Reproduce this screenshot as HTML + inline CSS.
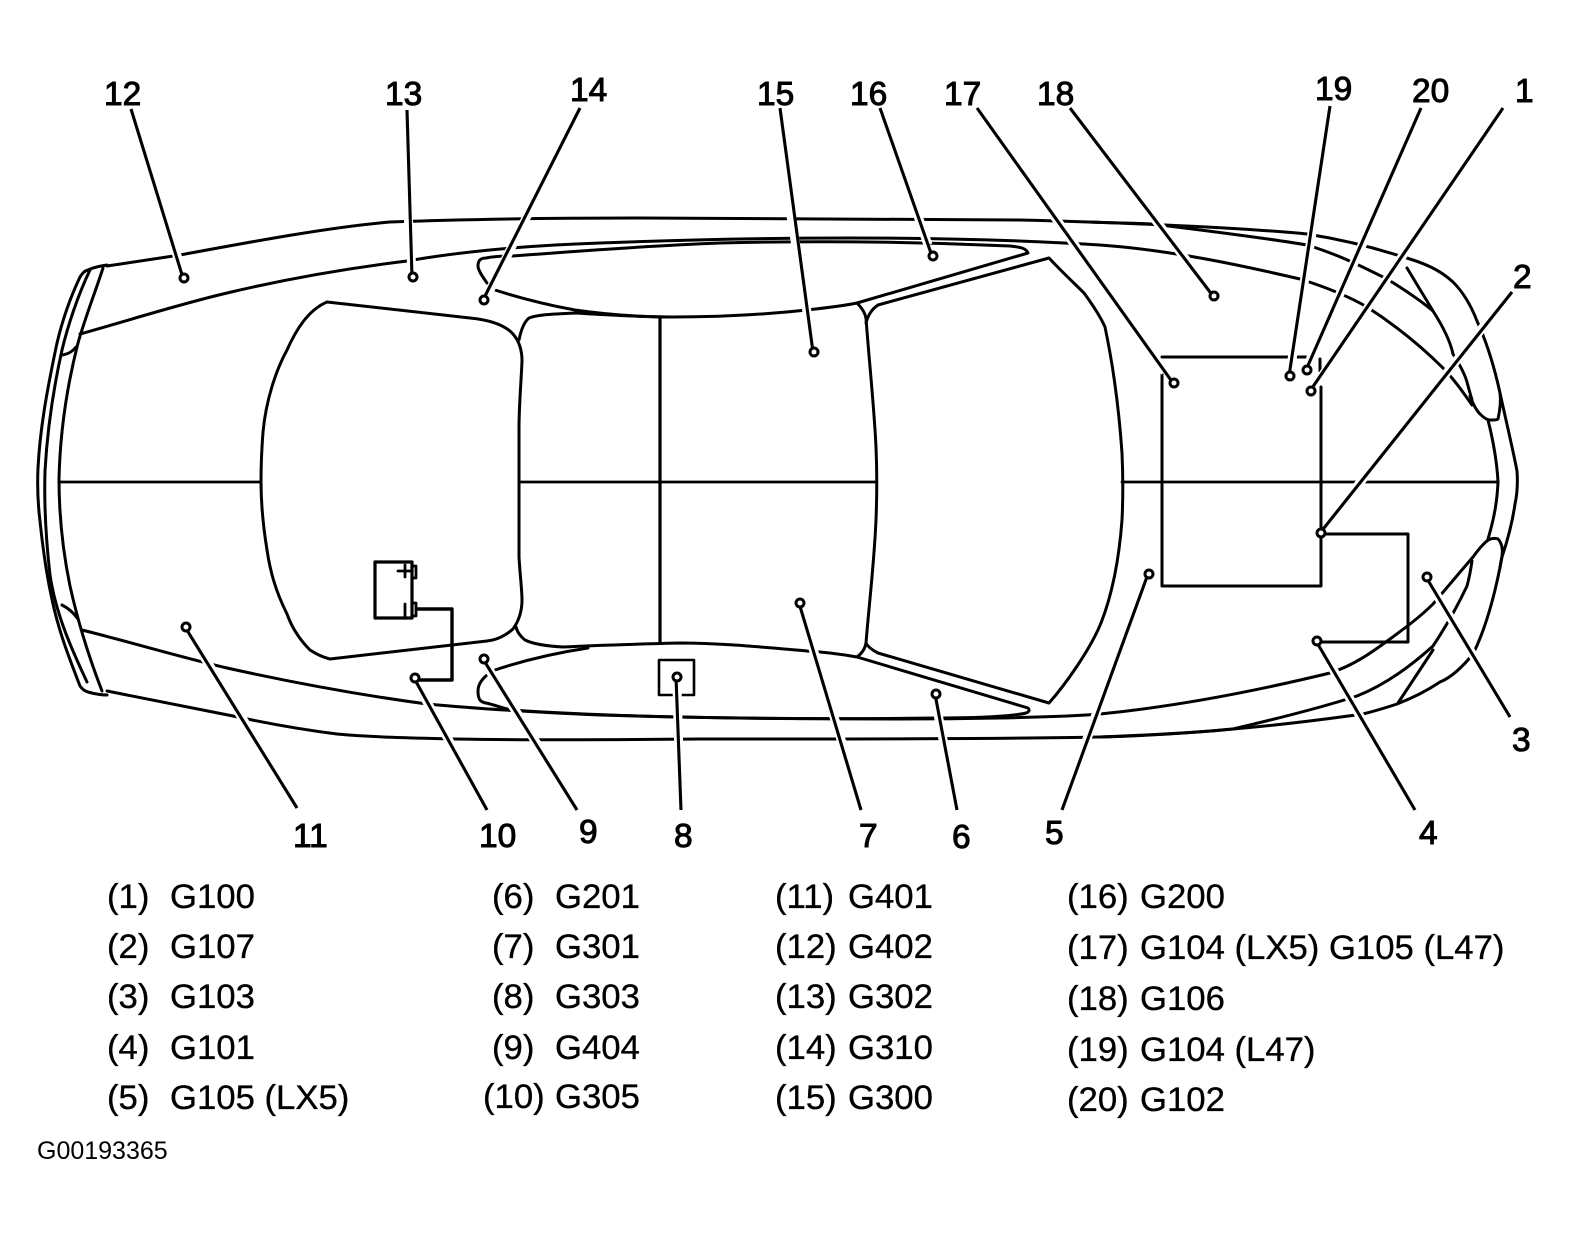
<!DOCTYPE html>
<html><head><meta charset="utf-8"><style>
html,body{margin:0;padding:0;background:#fff}
svg{display:block}
.d{fill:none;stroke:#000;stroke-width:3;stroke-linecap:round;stroke-linejoin:round}
.h{fill:none;stroke:#fff;stroke-width:9}
.l{fill:none;stroke:#000;stroke-width:3.1}
.c{fill:#fff;stroke:#000;stroke-width:3}
text{font-family:"Liberation Sans",sans-serif;fill:#000}
.n{font-size:33.5px;stroke:#000;stroke-width:1}
.t{font-size:34.7px;stroke:#000;stroke-width:.35}
</style></head><body>
<svg width="1569" height="1235" viewBox="0 0 1569 1235" xmlns="http://www.w3.org/2000/svg">
<rect width="1569" height="1235" fill="#fff"/>
<g class="d">
<!-- left cap -->
<path d="M107,265C100,266 92,268 88,270C84,271 82,274 80,277C70,298 62,322 57,343C46,395 40,430 38,468C37,490 38,505 40,521C43,550 47,578 53,604C60,635 70,660 80,686C83,690 85,691 88,692C95,694 101,695 107,695"/>
<path d="M90,270C78,295 68,325 62,350C52,395 47,435 45,471C44,505 46,540 50,575C56,615 72,650 87,682"/>
<path d="M103,268C96,290 85,318 78,343C66,390 60,435 59,479C59,515 63,552 70,586C78,622 90,660 102,691"/>
<path d="M62,355C68,354 72,352 76,347"/>
<path d="M62,605C68,608 73,612 78,619"/>
<!-- top outer -->
<path d="M107,266L180,255C250,242 330,227 390,222C470,219 560,218 640,218L1020,220C1060,221 1100,222 1165,225C1210,227 1265,230 1307,234C1345,240 1375,248 1400,256C1425,263 1440,270 1453,282C1465,294 1472,308 1477,321C1488,345 1495,370 1500,393C1507,425 1513,450 1517,471C1518,485 1517,495 1515,504C1512,525 1507,542 1502,557C1495,595 1485,630 1473,654C1460,670 1450,678 1440,682C1425,692 1410,699 1397,704C1385,708 1375,711 1363,714C1320,720 1280,725 1233,729C1190,733 1140,736 1100,737C1000,739 850,739 700,739C600,740 520,740 453,739C410,738 370,737 337,734C305,730 270,724 233,716L107,691"/>
<!-- hood top edge -->
<path d="M80,334C130,320 180,304 227,293C290,278 350,268 407,261C470,250 540,245 600,243C680,240 760,238 850,238C930,238 1020,240 1100,245C1170,250 1240,265 1300,279C1335,290 1355,300 1367,307C1395,325 1420,345 1443,368C1455,380 1465,395 1472,405"/>
<!-- middle top A -->
<path d="M1090,222C1110,223 1135,223 1153,224C1200,230 1260,237 1307,245C1340,255 1365,268 1387,279C1405,290 1420,300 1433,311C1442,325 1450,340 1453,354C1460,365 1465,375 1467,382C1469,390 1471,396 1472,400"/>
<path d="M1407,268L1433,311"/>
<!-- hood bottom edge -->
<path d="M82,630C130,642 180,657 227,668C290,682 360,695 427,704C480,709 530,712 600,715C700,718 800,719 900,719C950,719 1050,718 1100,714C1180,706 1260,690 1330,673C1355,665 1375,650 1390,639C1405,628 1420,617 1433,604C1445,590 1460,572 1473,557C1478,550 1483,544 1488,540"/>
<!-- second bottom line -->
<path d="M1100,737C1150,735 1195,733 1233,729C1280,718 1320,708 1357,696C1385,685 1412,665 1433,646C1447,625 1458,605 1467,586C1470,575 1471,568 1472,561"/>
<path d="M1433,650L1398,703"/>
<!-- lights -->
<path d="M1470,396C1473,404 1476,410 1480,414C1484,418 1487,420 1490,420C1494,420 1497,420 1498,419C1500,410 1501,400 1500,393"/>
<path d="M1488,420C1493,440 1497,462 1498,482C1497,505 1493,522 1488,539"/>
<path d="M1487,541C1490,538 1496,538 1498,539C1502,543 1503,550 1502,556C1501,562 1500,566 1500,568"/>
<!-- rear glass -->
<path d="M327,302L470,318C490,320 505,325 513,334C520,342 522,352 522,361C521,385 519,405 519,429L519,557C520,575 522,590 522,600C522,612 518,622 513,629C505,636 497,640 487,641L330,659C322,657 316,654 310,650C300,640 292,628 287,614C275,590 270,570 267,550C263,525 261,505 261,482C261,462 262,445 263,432C266,400 276,370 287,350C296,330 308,310 327,302Z"/>
<!-- roof -->
<path d="M519,340C521,330 524,322 529,318C540,314 558,314 575,313C610,315 640,317 672,317C720,317 770,314 807,310C825,308 843,306 857,303C862,308 865,313 866,318C869,360 874,405 876,447C877,470 877,495 876,520C874,565 869,605 866,643C865,649 861,654 857,657C840,654 825,652 807,651C760,647 720,643 680,643C640,644 600,645 563,647C545,646 533,644 525,640C520,636 517,631 516,627"/>
<!-- front glass -->
<path d="M866,323C868,315 872,309 878,305L1049,258C1062,272 1074,283 1084,293C1095,308 1101,318 1105,327C1113,365 1119,410 1122,453C1123,475 1123,500 1122,520C1119,560 1112,595 1101,623C1090,650 1065,685 1049,703L878,653C872,650 868,647 866,643"/>
<!-- side windows -->
<path d="M487,283C482,276 478,270 478,266C478,261 480,258 486,258C495,256 505,256 512,256C570,252 640,246 720,243C800,241 900,241 1010,246C1020,247 1026,248 1028,253L857,303"/>
<path d="M495,290C520,298 548,305 575,310C610,315 640,317 672,317"/>
<path d="M495,670C525,660 555,653 588,648"/>
<path d="M487,675C481,680 478,685 478,691C478,699 480,702 486,703C495,705 505,709 512,710C570,714 630,716 680,717C770,719 860,719 937,718C980,718 1015,716 1026,713C1029,712 1030,710 1028,708L857,657"/>
<!-- cross lines -->
<path d="M59,482H261M519,482H876M1122,482H1498" stroke-width="2.8"/>
<path d="M660,317V643" stroke-width="3.2"/>
<!-- wiring -->
<path d="M1162,357H1308M1162,373V586H1321V387M1321,534H1408V642H1317M1320,359V371"/>
<path d="M417,609H452V680H415" stroke-width="3.4"/>
<rect x="375" y="562" width="37" height="56" stroke-width="3.2"/>
<path d="M412,566H416V578H412M412,603H416V616H412M398,571H411M405,565V577M405,604V617" stroke-width="2.8"/>
<path d="M678,695H694V660H659V695H674" stroke-width="2.6"/>
</g>
<!-- leaders with halo -->
<g class="h"><path d="M135,122L180,265"/><path d="M407,200L412,270"/><path d="M565,140L490,290"/><path d="M790,210L812,342"/><path d="M890,135L928,245"/><path d="M1000,140L1165,372"/><path d="M1090,135L1207,287"/><path d="M1325,150L1291,366"/><path d="M1405,150L1310,360"/><path d="M1490,125L1318,382"/><path d="M1495,312L1328,523"/><path d="M1500,700L1432,587"/><path d="M1405,795L1322,650"/><path d="M1070,785L1144,584"/><path d="M953,790L936,704"/><path d="M855,785L802,613"/><path d="M680,790L677,687"/><path d="M570,795L488,668"/><path d="M480,795L419,688"/><path d="M290,795L191,636"/></g>
<g class="l">
<path d="M131,109L183,278"/><path d="M407,110L412,277"/><path d="M580,108L483,300"/><path d="M780,108L813,352"/><path d="M880,108L932,256"/><path d="M977,108L1173,383"/><path d="M1070,108L1213,296"/><path d="M1330,106L1289,376"/><path d="M1421,108L1306,370"/><path d="M1503,108L1310,391"/><path d="M1512,292L1320,533"/><path d="M1510,717L1426,577"/><path d="M1415,810L1316,641"/><path d="M1062,810L1148,574"/><path d="M957,810L935,694"/><path d="M861,810L799,603"/><path d="M681,810L676,677"/><path d="M577,810L483,659"/><path d="M487,810L414,678"/><path d="M297,808L185,627"/>
</g>
<g class="c">
<circle cx="184" cy="278" r="4"/><circle cx="413" cy="277" r="4"/><circle cx="484" cy="300" r="4"/><circle cx="814" cy="352" r="4"/><circle cx="933" cy="256" r="4"/><circle cx="1174" cy="383" r="4"/><circle cx="1214" cy="296" r="4"/><circle cx="1290" cy="376" r="4"/><circle cx="1307" cy="370" r="4"/><circle cx="1311" cy="391" r="4"/><circle cx="1321" cy="533" r="4"/><circle cx="1427" cy="577" r="4"/><circle cx="1317" cy="641" r="4"/><circle cx="1149" cy="574" r="4"/><circle cx="936" cy="694" r="4"/><circle cx="800" cy="603" r="4"/><circle cx="677" cy="677" r="4"/><circle cx="484" cy="659" r="4"/><circle cx="415" cy="678" r="4"/><circle cx="186" cy="627" r="4"/>
</g>
<!-- numbers -->
<g class="n">
<text x="104" y="105">12</text><text x="385" y="105">13</text><text x="570" y="101">14</text><text x="757" y="105">15</text><text x="850" y="105">16</text><text x="944" y="105">17</text><text x="1037" y="105">18</text><text x="1315" y="100">19</text><text x="1412" y="102">20</text><text x="1515" y="102">1</text><text x="1513" y="288">2</text><text x="1512" y="751">3</text><text x="1419" y="844">4</text><text x="1045" y="844">5</text><text x="952" y="848">6</text><text x="859" y="847">7</text><text x="674" y="847">8</text><text x="579" y="843">9</text><text x="479" y="847">10</text><text x="293" y="847">11</text>
</g>
<!-- legend -->
<g class="t">
<text x="107" y="908">(1)</text><text x="170" y="908">G100</text>
<text x="107" y="958">(2)</text><text x="170" y="958">G107</text>
<text x="107" y="1008">(3)</text><text x="170" y="1008">G103</text>
<text x="107" y="1059">(4)</text><text x="170" y="1059">G101</text>
<text x="107" y="1109">(5)</text><text x="170" y="1109">G105 (LX5)</text>
<text x="492" y="908">(6)</text><text x="555" y="908">G201</text>
<text x="492" y="958">(7)</text><text x="555" y="958">G301</text>
<text x="492" y="1008">(8)</text><text x="555" y="1008">G303</text>
<text x="492" y="1059">(9)</text><text x="555" y="1059">G404</text>
<text x="483" y="1108">(10)</text><text x="555" y="1108">G305</text>
<text x="775" y="908">(11)</text><text x="848" y="908">G401</text>
<text x="775" y="958">(12)</text><text x="848" y="958">G402</text>
<text x="775" y="1008">(13)</text><text x="848" y="1008">G302</text>
<text x="775" y="1059">(14)</text><text x="848" y="1059">G310</text>
<text x="775" y="1109">(15)</text><text x="848" y="1109">G300</text>
<text x="1067" y="908">(16)</text><text x="1140" y="908">G200</text>
<text x="1067" y="959">(17)</text><text x="1140" y="959">G104 (LX5) G105 (L47)</text>
<text x="1067" y="1010">(18)</text><text x="1140" y="1010">G106</text>
<text x="1067" y="1061">(19)</text><text x="1140" y="1061">G104 (L47)</text>
<text x="1067" y="1111">(20)</text><text x="1140" y="1111">G102</text>
</g>
<text x="37" y="1159" font-size="25">G00193365</text>
</svg>
</body></html>
